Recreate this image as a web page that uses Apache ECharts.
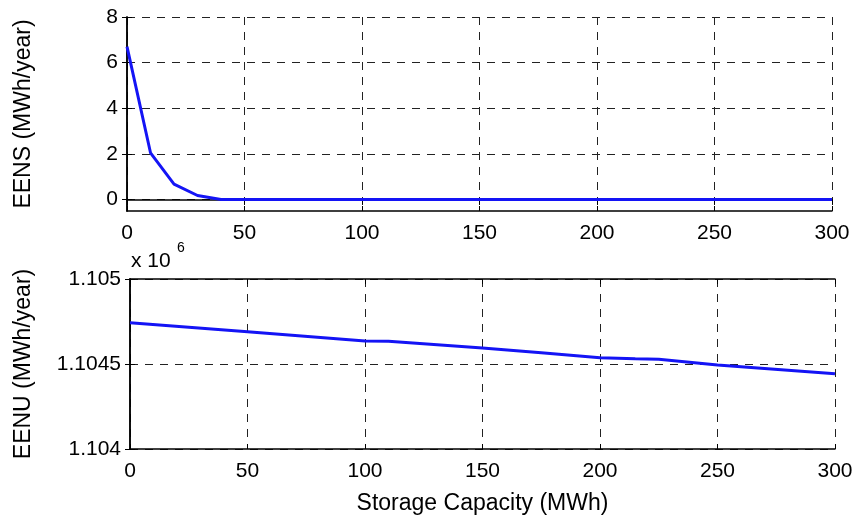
<!DOCTYPE html>
<html>
<head>
<meta charset="utf-8">
<script src="https://cdn.jsdelivr.net/npm/echarts@6/dist/echarts.min.js"></script>
<style>html,body{margin:0;padding:0;background:#fff}#c{width:859px;height:518px}</style>
</head>
<body>
<div id="c"></div>
<script>
// Storage capacity (MWh)
const capTop = [0, 10, 20, 30, 40, 50, 100, 150, 200, 250, 300];
// EENS (MWh/year)
const eens = [6.7, 2.05, 0.68, 0.18, 0.0, 0.0, 0.0, 0.0, 0.0, 0.0, 0.0];
// Storage capacity (MWh) for EENU
const capBot = [0, 50, 100, 110, 150, 175, 200, 215, 225, 250, 300];
// EENU (MWh/year)
const eenu = [1104743, 1104690, 1104635, 1104634, 1104594, 1104566, 1104537, 1104531, 1104528, 1104494, 1104443];
const xTicks = [0, 50, 100, 150, 200, 250, 300];
const eensTicks = [0, 2, 4, 6, 8];
const eenuTicks = [1104000, 1104500, 1105000];

const FONT = 'Liberation Sans, Arial, Helvetica, sans-serif';
const lbl = { color: '#000', fontSize: 21, fontFamily: FONT };
const nameLbl = { color: '#000', fontSize: 23, fontFamily: FONT };
const dash = { color: '#222', width: 1, type: [8, 7] };

function xAxisDef(gi, showName) {
  return {
    type: 'value', gridIndex: gi, min: 0, max: 300, interval: 50,
    axisLine: { show: true, onZero: false, lineStyle: { color: '#000', width: 1.5 } },
    axisTick: { show: true, inside: true, length: 5, lineStyle: { color: '#000' } },
    axisLabel: Object.assign({ margin: 12 }, lbl),
    splitLine: { show: true, lineStyle: dash },
    name: showName ? 'Storage Capacity (MWh)' : '',
    nameLocation: 'middle', nameGap: 43,
    nameTextStyle: nameLbl
  };
}
function xTopDef(gi) {
  return {
    type: 'value', gridIndex: gi, min: 0, max: 300, interval: 50, position: 'top',
    axisLine: { show: true, lineStyle: { color: '#000', width: 1.5 } },
    axisTick: { show: true, inside: true, length: 5, lineStyle: { color: '#000' } },
    axisLabel: { show: false }, splitLine: { show: false }
  };
}

const option = {
  animation: false,
  backgroundColor: '#fff',
  grid: [
    { left: 127, right: 27, top: 17, height: 194, show: false },
    { left: 130, right: 24, top: 279, height: 170, show: false }
  ],
  xAxis: [xAxisDef(0, false), xAxisDef(1, true), xTopDef(0), xTopDef(1)],
  yAxis: [
    {
      type: 'value', gridIndex: 0, min: -0.5, max: 8,
      axisLine: { show: true, lineStyle: { color: '#000', width: 1.5 } },
      axisTick: { show: true, inside: true, length: 5, customValues: eensTicks, lineStyle: { color: '#000' } },
      axisLabel: Object.assign({ margin: 9, customValues: eensTicks }, lbl),
      splitLine: { show: true, lineStyle: dash },
      name: 'EENS (MWh/year)', nameLocation: 'middle', nameGap: 92, nameTextStyle: nameLbl
    },
    {
      type: 'value', gridIndex: 1, min: 1104000, max: 1105000, interval: 500,
      axisLine: { show: true, lineStyle: { color: '#000', width: 1.5 } },
      axisTick: { show: true, inside: true, length: 5, lineStyle: { color: '#000' } },
      axisLabel: Object.assign({ margin: 9, formatter: v => String(v / 1e6) }, lbl),
      splitLine: { show: true, lineStyle: dash },
      name: 'EENU (MWh/year)', nameLocation: 'middle', nameGap: 95, nameTextStyle: nameLbl
    },
    {
      type: 'value', gridIndex: 0, min: -0.5, max: 8, position: 'right',
      axisLine: { show: true, lineStyle: { color: '#000', width: 1.5 } },
      axisTick: { show: true, inside: true, length: 5, customValues: eensTicks, lineStyle: { color: '#000' } },
      axisLabel: { show: false }, splitLine: { show: false }
    },
    {
      type: 'value', gridIndex: 1, min: 1104000, max: 1105000, interval: 500, position: 'right',
      axisLine: { show: true, lineStyle: { color: '#000', width: 1.5 } },
      axisTick: { show: true, inside: true, length: 5, lineStyle: { color: '#000' } },
      axisLabel: { show: false }, splitLine: { show: false }
    }
  ],
  graphic: [
    { type: 'text', left: 131, top: 251, style: { text: 'x 10', fontSize: 21, fontFamily: FONT, fill: '#000' } },
    { type: 'text', left: 177, top: 241, style: { text: '6', fontSize: 14, fontFamily: FONT, fill: '#000' } }
  ],
  series: [
    {
      type: 'line', xAxisIndex: 0, yAxisIndex: 0, showSymbol: false,
      data: capTop.map((x, i) => [x, eens[i]]),
      lineStyle: { color: '#1414f5', width: 3 }
    },
    {
      type: 'line', xAxisIndex: 1, yAxisIndex: 1, showSymbol: false,
      data: capBot.map((x, i) => [x, eenu[i]]),
      lineStyle: { color: '#1414f5', width: 3 }
    }
  ]
};
const chart = echarts.init(document.getElementById('c'), null, { renderer: 'canvas' });
chart.setOption(option);
</script>
</body>
</html>
